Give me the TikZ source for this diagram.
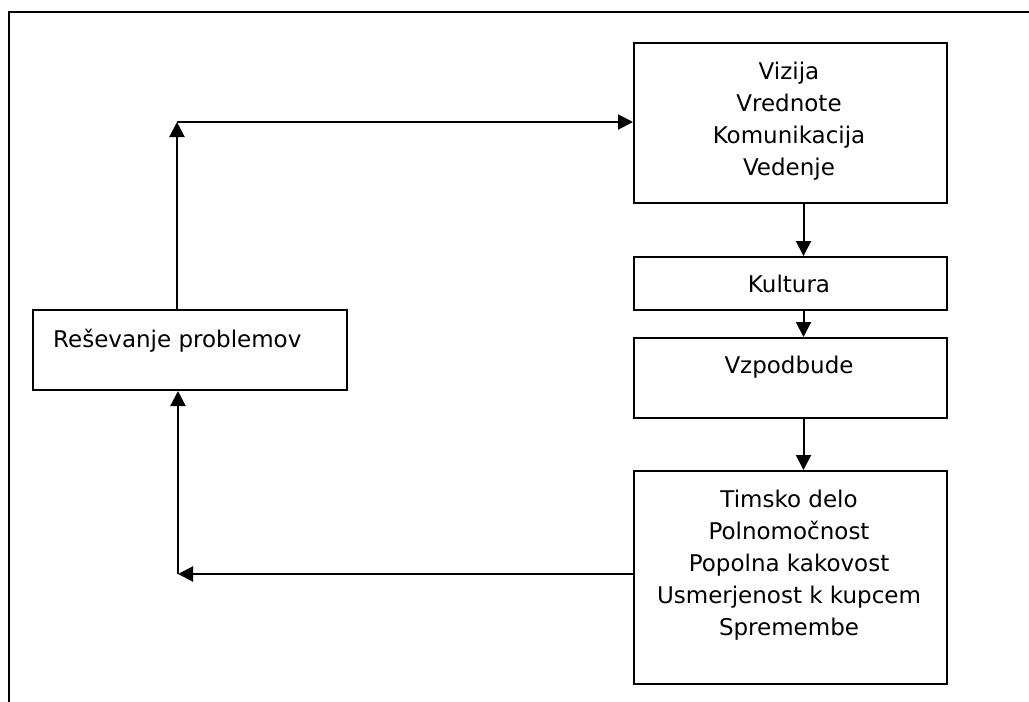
\documentclass[tikz,border=0pt]{standalone}
\usepackage{fontspec}
\setmainfont{DejaVu Sans}
\usetikzlibrary{arrows.meta,positioning}
\tikzset{>={Triangle[length=15pt,width=15pt]},
  box/.style={draw,line width=2pt,inner sep=0pt,anchor=north west,minimum width=313pt},
  txt/.style={font=\fontsize{23pt}{32pt}\selectfont,align=center,inner sep=0pt,anchor=base},
  conn/.style={line width=2pt}}

\begin{document}
\begin{tikzpicture}[x=1pt,y=-1pt]
\useasboundingbox (0,0) rectangle (1029,702);
\draw[line width=2pt] (9,702) -- (9,12) -- (1029,12);
% right column
\node[box,minimum height=160pt] (vis) at (633,42) {};
\node[box,minimum height=53pt] (kul) at (633,256) {};
\node[box,minimum height=80pt] (vzp) at (633,337) {};
\node[box,minimum height=213pt] (tim) at (633,470) {};
\node[txt] (vistxt) at (789,175) {Vizija\\Vrednote\\Komunikacija\\Vedenje};
\node[txt] (kultxt) at (789,292) {Kultura};
\node[txt] (vzptxt) at (789,373) {Vzpodbude};
\node[txt] (timtxt) at (789,635) {Timsko delo\\Polnomočnost\\Popolna kakovost\\Usmerjenost k kupcem\\Spremembe};
% left box
\node[box,minimum width=314pt,minimum height=80pt] (res) at (32,309) {};
\node[txt,anchor=base west] (restxt) at (53,347) {Reševanje problemov};
% connectors
\draw[conn,->] ([xshift=13pt]vis.south) -- ([xshift=13pt]kul.north);
\draw[conn,->] ([xshift=13pt]kul.south) -- ([xshift=13pt]vzp.north);
\draw[conn,->] ([xshift=13pt]vzp.south) -- ([xshift=13pt]tim.north);
\coordinate (cup) at (177,122);
\coordinate (cdn) at (178,574);
\draw[conn,->] (res.north -| cup) -- (cup);
\draw[conn,->] (cup) -- (cup -| vis.west);
\draw[conn,->] (tim.west |- cdn) -- (cdn);
\draw[conn,->] (cdn) -- (cdn |- res.south);
\end{tikzpicture}
\end{document}
